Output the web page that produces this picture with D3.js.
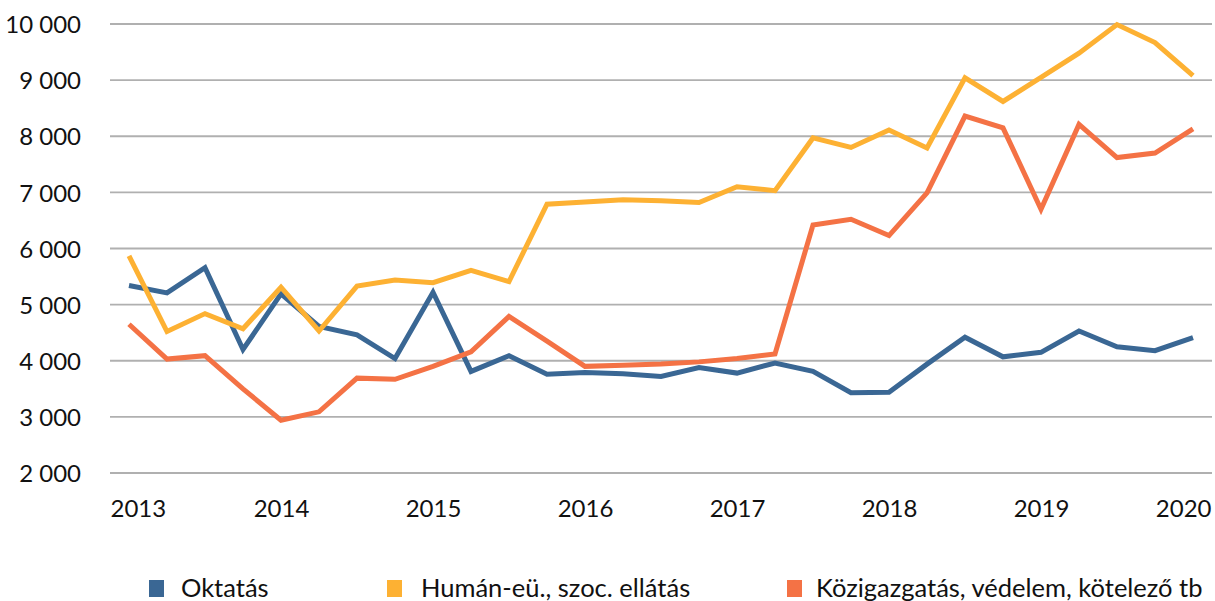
<!DOCTYPE html>
<html>
<head>
<meta charset="utf-8">
<script src="https://cdn.jsdelivr.net/npm/d3@7/dist/d3.min.js"></script>
<style>
  html, body { margin: 0; padding: 0; background: #ffffff; }
  svg { display: block; }
</style>
</head>
<body>
<svg id="chart" width="1215" height="601"></svg>
<script>
// Quarterly observations, 2013 Q1 – 2020 Q1
const quarters = [
  "2013Q1","2013Q2","2013Q3","2013Q4",
  "2014Q1","2014Q2","2014Q3","2014Q4",
  "2015Q1","2015Q2","2015Q3","2015Q4",
  "2016Q1","2016Q2","2016Q3","2016Q4",
  "2017Q1","2017Q2","2017Q3","2017Q4",
  "2018Q1","2018Q2","2018Q3","2018Q4",
  "2019Q1","2019Q2","2019Q3","2019Q4",
  "2020Q1"
];

const oktatas = [
  5340, 5210, 5660, 4200,
  5190, 4610, 4460, 4040,
  5220, 3810, 4090, 3760,
  3790, 3770, 3720, 3880,
  3780, 3960, 3810, 3430,
  3440, 3940, 4420, 4070,
  4150, 4530, 4250, 4180,
  4410
];

const human = [
  5870, 4520, 4840, 4570,
  5310, 4530, 5330, 5440,
  5390, 5610, 5410, 6790,
  6830, 6870, 6850, 6820,
  7100, 7030, 7970, 7800,
  8110, 7790, 9040, 8620,
  9050, 9480, 9990, 9670,
  9080
];

const kozig = [
  4650, 4030, 4090, 3500,
  2940, 3090, 3690, 3670,
  3900, 4160, 4790, 4350,
  3900, 3920, 3940, 3980,
  4040, 4120, 6420, 6520,
  6230, 6990, 8360, 8150,
  6700, 8210, 7620, 7700,
  8130
];

const yTicks = [2000, 3000, 4000, 5000, 6000, 7000, 8000, 9000, 10000];
const yearLabels = ["2013","2014","2015","2016","2017","2018","2019","2020"];

const series = [
  { name: "Oktatás", values: oktatas, color: "#3a6794" },
  { name: "Humán-eü., szoc. ellátás", values: human, color: "#fdb133" },
  { name: "Közigazgatás, védelem, kötelező tb", values: kozig, color: "#f47245" }
];

const svg = d3.select("#chart");
const plot = { left: 110, right: 1212, top: 24, bottom: 473 };
const font = "Lato, 'Open Sans', sans-serif";

const x = d3.scalePoint()
  .domain(quarters)
  .range([plot.left, plot.right])
  .padding(0.5);

const y = d3.scaleLinear()
  .domain([2000, 10000])
  .range([plot.bottom, plot.top]);

const fmt = v => d3.format(",")(v).replace(/,/g, " ");

// horizontal gridlines
svg.append("g")
  .selectAll("line")
  .data(yTicks)
  .join("line")
  .attr("x1", plot.left)
  .attr("x2", plot.right)
  .attr("y1", d => y(d))
  .attr("y2", d => y(d))
  .attr("stroke", "#b0b0b0")
  .attr("stroke-width", 1.8);

// y axis labels
const yAxis = d3.axisLeft(y).tickValues(yTicks).tickFormat(fmt).tickSize(0).tickPadding(0);
svg.append("g")
  .attr("transform", `translate(${plot.left - 29},0)`)
  .call(yAxis)
  .call(g => g.select(".domain").remove())
  .call(g => g.selectAll("text")
    .attr("font-family", font)
    .attr("font-size", 24)
    .attr("fill", "#111")
    .attr("dy", "0.36em"));

// x axis: year labels at each first quarter; the outer two are kept inside the plot width
const xAxis = d3.axisBottom(x)
  .tickValues(yearLabels.map(yr => yr + "Q1"))
  .tickFormat(d => d.slice(0, 4))
  .tickSize(0)
  .tickPadding(0);
svg.append("g")
  .attr("transform", `translate(0,${plot.bottom + 44})`)
  .call(xAxis)
  .call(g => g.select(".domain").remove())
  .call(g => g.selectAll("text")
    .attr("font-family", font)
    .attr("font-size", 24)
    .attr("fill", "#111")
    .attr("dy", 0))
  .call(g => {
    const ticks = g.selectAll(".tick").nodes();
    const first = d3.select(ticks[0]).select("text");
    first.attr("text-anchor", "start").attr("x", plot.left - x(quarters[0]));
    const last = d3.select(ticks[ticks.length - 1]).select("text");
    last.attr("text-anchor", "end").attr("x", plot.right - 1 - x(quarters[quarters.length - 1]));
  });

// series lines
const line = d3.line()
  .x((d, i) => x(quarters[i]))
  .y(d => y(d));

svg.append("g")
  .selectAll("path")
  .data(series)
  .join("path")
  .attr("d", d => line(d.values))
  .attr("fill", "none")
  .attr("stroke", d => d.color)
  .attr("stroke-width", 5)
  .attr("stroke-linejoin", "miter")
  .attr("stroke-linecap", "butt");

// legend
const legendPos = [
  { sq: 149, tx: 181 },
  { sq: 387, tx: 421 },
  { sq: 787, tx: 816 }
];
const legend = svg.append("g");
series.forEach((s, i) => {
  legend.append("rect")
    .attr("x", legendPos[i].sq)
    .attr("y", 580)
    .attr("width", 15)
    .attr("height", 17)
    .attr("fill", s.color);
  legend.append("text")
    .attr("x", legendPos[i].tx)
    .attr("y", 597)
    .attr("font-family", font)
    .attr("font-size", 25.5)
    .attr("fill", "#111")
    .text(s.name);
});
</script>
</body>
</html>
